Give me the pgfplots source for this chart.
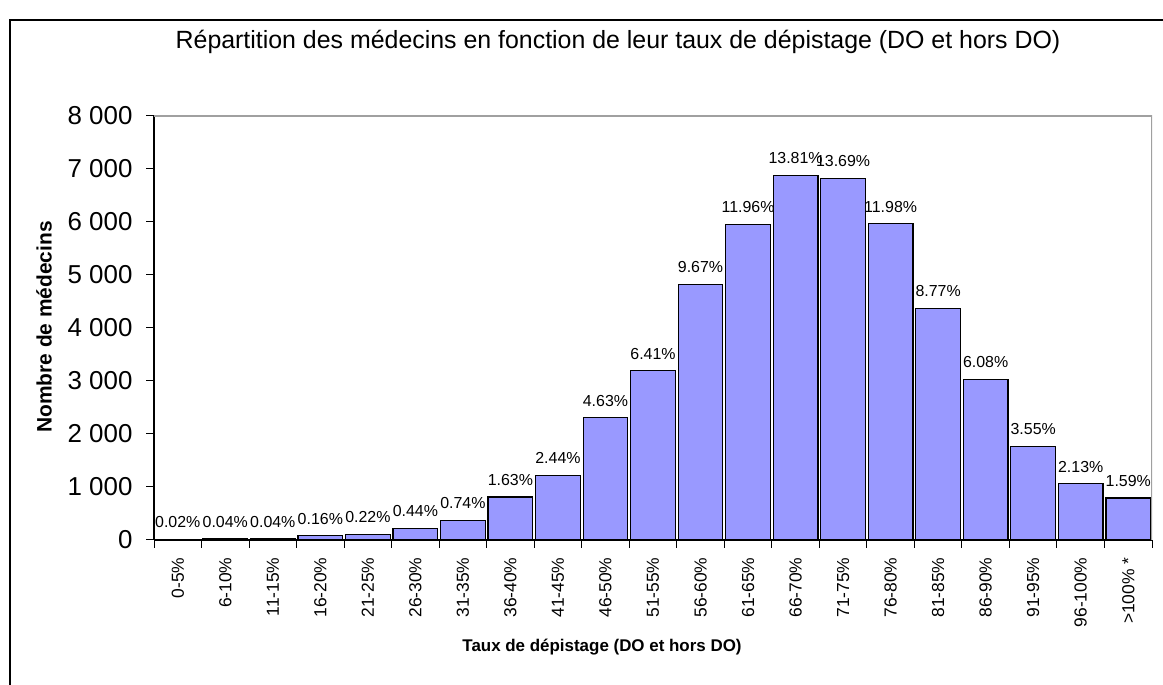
\documentclass[border=0pt]{standalone}
\usepackage{pgfplots}
\pgfplotsset{compat=1.18}
\usepackage{pgfplotstable}
\usepackage{fontspec}
\setmainfont{Liberation Sans}

\definecolor{barfill}{HTML}{9999FF}
\definecolor{framegray}{HTML}{A0A0A0}

% x = category index, y = number of doctors, p = share in %
\pgfplotstableread{
x y p
0 10 0.02
1 20 0.04
2 20 0.04
3 80 0.16
4 110 0.22
5 219 0.44
6 369 0.74
7 812 1.63
8 1215 2.44
9 2306 4.63
10 3192 6.41
11 4816 9.67
12 5956 11.96
13 6877 13.81
14 6818 13.69
15 5966 11.98
16 4367 8.77
17 3028 6.08
18 1768 3.55
19 1061 2.13
20 792 1.59
}\data

\begin{document}
\begin{tikzpicture}
\path[use as bounding box] (0,0) rectangle (1163bp,685bp);
\draw[line width=1.2bp] (10bp,0) -- (10bp,665bp) -- (1163bp,665bp);
\node[font=\fontsize{25}{30}\selectfont] at (618bp,643bp)
  {Répartition des médecins en fonction de leur taux de dépistage (DO et hors DO)};
\node[font=\fontsize{17}{20}\selectfont\bfseries] at (602bp,38bp)
  {Taux de dépistage (DO et hors DO)};
\node[font=\fontsize{21}{25}\selectfont\bfseries, rotate=90] at (44bp,358bp)
  {Nombre de médecins};
\begin{axis}[
  at={(154bp,145bp)}, anchor=south west,
  width=998bp, height=424bp, scale only axis,
  xmin=-0.5, xmax=20.5, ymin=0, ymax=8000,
  axis x line*=bottom, axis y line*=left,
  axis line style={-, black, line width=1.2bp},
  tick align=outside,
  major tick length=8bp,
  tick style={black, line width=1bp},
  xtick={-0.5,0.5,...,20.5},
  x tick label as interval,
  xticklabels={0-5\%,6-10\%,11-15\%,16-20\%,21-25\%,26-30\%,31-35\%,36-40\%,41-45\%,46-50\%,51-55\%,56-60\%,61-65\%,66-70\%,71-75\%,76-80\%,81-85\%,86-90\%,91-95\%,96-100\%,>100\% *},
  x tick label style={rotate=90, anchor=east, font=\fontsize{17.5}{21}\selectfont},
  xticklabel shift=6bp,
  ytick={0,1000,...,8000},
  scaled y ticks=false,
  y tick label style={font=\fontsize{26}{30}\selectfont},
  yticklabel shift=10bp,
  /pgf/number format/assume math mode=true,
  /pgf/number format/1000 sep={\ },
]
\draw[framegray, line width=1.2bp] (rel axis cs:0,1) -- (rel axis cs:1,1) -- (rel axis cs:1,0);
\addplot[ybar, bar width=0.94, fill=barfill, draw=black, line width=1.2bp,
  point meta=explicit,
  nodes near coords={\pgfmathprintnumber[fixed,precision=2,fixed zerofill]{\pgfplotspointmeta}\%},
  every node near coord/.append style={font=\fontsize{16}{19}\selectfont, black, inner sep=4bp, anchor=south, yshift=7bp}]
  table[x=x, y=y, meta=p] {\data};
\end{axis}
\end{tikzpicture}
\end{document}
